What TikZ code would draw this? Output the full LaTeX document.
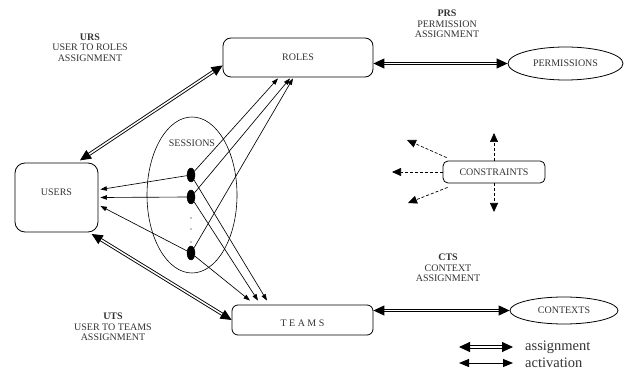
\documentclass[tikz,border=0pt]{standalone}
\usepackage{fontspec}
\setmainfont{Liberation Serif}
\usetikzlibrary{arrows.meta, shapes.geometric, calc}

\begin{document}
\begin{tikzpicture}[x=1pt,y=-1pt,
	lbl/.style={font=\fontsize{10}{10.5}\selectfont, text=black!80, inner sep=0pt, align=center},
	box/.style={draw, rounded corners=8pt, line width=0.8pt, lbl},
	oval/.style={draw, ellipse, line width=0.8pt, lbl},
	sess/.style={draw, fill, ellipse, minimum width=8pt, minimum height=14pt, inner sep=0pt},
	assign/.style={double, double distance=1.5pt, line width=0.9pt, {Triangle[length=11pt,width=10pt]}-{Triangle[length=11pt,width=10pt]}},
	activ/.style={line width=1pt, {Triangle[length=10pt,width=8pt]}-{Triangle[length=10pt,width=8pt]}},
	act/.style={line width=0.65pt, -{Triangle[length=6.5pt,width=4.5pt]}},
	cons/.style={dash pattern=on 3pt off 2pt, line width=0.7pt, -{Triangle[length=9pt,width=8pt]}}]
	\useasboundingbox (0,0) rectangle (628,371);

	\node[box, minimum width=150pt, minimum height=39pt] (roles) at (298,57.5) {ROLES};
	\node[box, rounded corners=10pt, minimum width=83pt, minimum height=69pt, text depth=10pt] (users) at (56.5,197.5) {USERS};
	\node[box, rounded corners=6pt, minimum width=141pt, minimum height=30pt, text height=12.5pt, text depth=0pt] (teams) at (302.5,320) {T E A M S};
	\node[box, rounded corners=5pt, minimum width=102pt, minimum height=22pt] (constr) at (494,172) {CONSTRAINTS};
	\node[oval, minimum width=115pt, minimum height=33pt] (perm) at (565.5,63.5) {PERMISSIONS};
	\node[oval, minimum width=108pt, minimum height=27pt] (ctx) at (564,310.5) {CONTEXTS};
	\node[draw, ellipse, line width=0.6pt, minimum width=90pt, minimum height=156pt] (sessions) at (192,195) {};
	\node[lbl] (sesslbl) at (192,143) {SESSIONS};

	\node[lbl] (urs) at (90,47.5) {\textbf{URS}\\USER TO ROLES\\ASSIGNMENT};
	\node[lbl] (prs) at (447,24) {\textbf{PRS}\\PERMISSION\\ASSIGNMENT};
	\node[lbl] (uts) at (113,327) {\textbf{UTS}\\USER TO TEAMS\\ASSIGNMENT};
	\node[lbl] (cts) at (448,268) {\textbf{CTS}\\CONTEXT\\ASSIGNMENT};

	\node[sess] (s1) at (191,175) {};
	\node[sess] (s2) at (191,197) {};
	\node[sess] (s3) at (191,253) {};
	\foreach \y in {218,229,242}
		\fill (191,\y) circle (0.6pt);

	\draw[assign, shorten <=4pt] (users.60) -- (roles.186);
	\draw[assign, shorten <=3pt] (users.-47) -- (teams.west);
	\draw[assign] (roles.east |- perm.west) -- (perm.west);
	\draw[assign] (teams.east |- ctx.west) -- (ctx.west);

	\draw[act] (s1) -- ([xshift=2pt,yshift=8pt]users.east);
	\draw[act] (s2) -- ([xshift=2pt]users.east);
	\draw[act] (s3) -- ([xshift=2pt,yshift=-8.5pt]users.east);
	\draw[act] (s1) -- ([xshift=-20pt,yshift=-1pt]roles.south);
	\draw[act] (s2) -- ([xshift=-8pt,yshift=-1pt]roles.south);
	\draw[act] (s3) -- ([xshift=-5pt,yshift=-1pt]roles.south);
	\draw[act] (s1) -- ([xshift=-35.5pt,yshift=4pt]teams.north);
	\draw[act] (s2) -- ([xshift=-44.5pt,yshift=4pt]teams.north);
	\draw[act] (s3) -- ([xshift=-52.5pt,yshift=4pt]teams.north);

	\coordinate (cup) at (494,133);
	\coordinate (cdown) at (494,212);
	\coordinate (cleft) at (392,172);
	\coordinate (cupleft) at (407,140);
	\coordinate (cdownleft) at (408,203);
	\draw[cons] (constr.north) -- (cup);
	\draw[cons] (constr.south) -- (cdown);
	\draw[cons] (constr.west) -- (cleft);
	\draw[cons] ([xshift=4pt,yshift=3pt]constr.north west) -- (cupleft);
	\draw[cons] ([xshift=5pt,yshift=-4pt]constr.south west) -- (cdownleft);

	\coordinate (la) at (459,347);
	\coordinate (lb) at (513,347);
	\coordinate (lc) at (459,363);
	\coordinate (ld) at (513,363);
	\draw[assign] (la) -- (lb);
	\draw[activ] (lc) -- (ld);
	\node[anchor=west, font=\fontsize{14.5}{15}\selectfont, text=black!80, inner sep=0pt] (lassign) at (525,347) {assignment};
	\node[anchor=west, font=\fontsize{14.5}{15}\selectfont, text=black!80, inner sep=0pt] (lactiv) at (525,363) {activation};
\end{tikzpicture}
\end{document}
